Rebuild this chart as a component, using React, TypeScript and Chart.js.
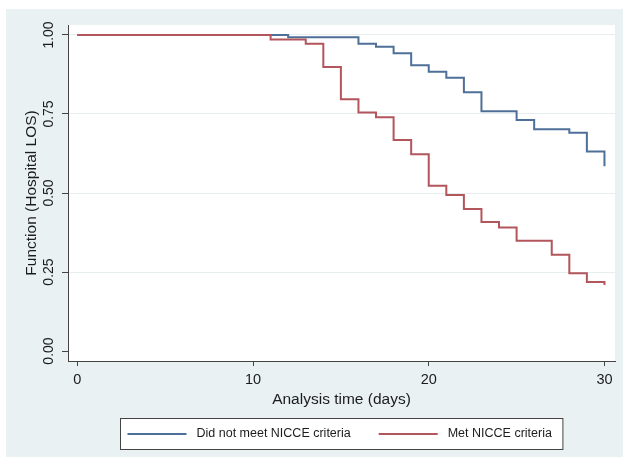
import React, { useEffect, useRef } from "react";
import { Chart, registerables } from "chart.js";

Chart.register(...registerables);

// ---- data ----
const blueDays = [0, 12, 16, 17, 18, 19, 20, 21, 22, 23, 25, 26, 28, 29, 30];
const blueSurv = [1, 0.993, 0.972, 0.963, 0.942, 0.904, 0.884, 0.865, 0.819, 0.759, 0.731, 0.702, 0.691, 0.631, 0.585];
const redDays = [0, 11, 13, 14, 15, 16, 17, 18, 19, 20, 21, 22, 23, 24, 25, 27, 28, 29, 30];
const redSurv = [1, 0.986, 0.972, 0.899, 0.797, 0.755, 0.74, 0.668, 0.623, 0.523, 0.494, 0.449, 0.408, 0.391, 0.349, 0.305, 0.246, 0.218, 0.209];
const seriesLabels = ["Did not meet NICCE criteria", "Met NICCE criteria"];
const xTicks = [0, 10, 20, 30];
const yTicks = [0, 0.25, 0.5, 0.75, 1];
const xTitle = "Analysis time (days)";
const yTitle = "Function (Hospital LOS)";

const FONT = "'Liberation Sans', Arial, Helvetica, sans-serif";
const BLUE = "rgb(78,112,152)";
const RED = "rgb(178,86,92)";
const AXIS = "#444";
const TEXT = "#1c1c1c";
const PANEL = "#e9f1f3";
const GRID = "#e6eef0";

const bgPlugin = {
  id: "statabg",
  beforeDraw(chart: any) {
    const { ctx, chartArea: ca, width, height } = chart;
    ctx.save();
    ctx.fillStyle = "#ffffff";
    ctx.fillRect(0, 0, width, height);
    ctx.fillStyle = PANEL;
    ctx.fillRect(6, 9, width - 6, height - 9);
    ctx.fillStyle = "#ffffff";
    ctx.fillRect(ca.left, ca.top, ca.right - ca.left, ca.bottom - ca.top);
    ctx.restore();
  },
};

const boxLegendPlugin = {
  id: "boxlegend",
  afterDraw(chart: any) {
    const { ctx, chartArea: ca, height } = chart;
    const ds = chart.data.datasets;
    const order = [0, 1];
    ctx.save();
    ctx.font = `12.5px ${FONT}`;
    const lineLen = 59, gapText = 10, gapItem = 28, padL = 7, padR = 11;
    const widths = order.map((i) => ctx.measureText(ds[i].label).width);
    let total = padL + padR + gapItem * (order.length - 1);
    widths.forEach((w) => (total += lineLen + gapText + w));
    const cx = (ca.left + ca.right) / 2;
    const left = Math.round(cx - total / 2) + 0.5;
    const top = height - 39 + 0.5;
    const h = 31;
    ctx.fillStyle = "#ffffff";
    ctx.fillRect(left, top, total, h);
    ctx.strokeStyle = AXIS;
    ctx.lineWidth = 1;
    ctx.strokeRect(left, top, total, h);
    const yc = top + h / 2;
    let x = left + padL;
    order.forEach((i, k) => {
      ctx.strokeStyle = ds[i].borderColor;
      ctx.lineWidth = 2;
      ctx.beginPath();
      ctx.moveTo(x, yc);
      ctx.lineTo(x + lineLen, yc);
      ctx.stroke();
      x += lineLen + gapText;
      ctx.fillStyle = TEXT;
      ctx.textAlign = "left";
      ctx.textBaseline = "middle";
      ctx.fillText(ds[i].label, x, yc);
      x += widths[k] + gapItem;
    });
    ctx.restore();
  },
};

export default function App() {
  const ref = useRef<HTMLCanvasElement | null>(null);

  useEffect(() => {
    document.body.style.margin = "0";
    const canvas = ref.current;
    if (!canvas) return;

    const blueData = blueDays.map((d, i) => ({ x: d, y: blueSurv[i] }));
    const redData = redDays.map((d, i) => ({ x: d, y: redSurv[i] }));

    const chart = new Chart(canvas, {
      type: "line",
      data: {
        datasets: [
          {
            label: seriesLabels[0],
            data: blueData,
            borderColor: BLUE,
            backgroundColor: BLUE,
            borderWidth: 2,
            stepped: "before",
            pointRadius: 0,
            fill: false,
            order: 1,
          },
          {
            label: seriesLabels[1],
            data: redData,
            borderColor: RED,
            backgroundColor: RED,
            borderWidth: 2,
            stepped: "before",
            pointRadius: 0,
            fill: false,
            order: 0,
          },
        ],
      },
      options: {
        animation: false,
        responsive: false,
        devicePixelRatio: 1,
        layout: { padding: { top: 25, right: 8, bottom: 44, left: 0 } },
        plugins: {
          legend: { display: false },
          tooltip: { enabled: false },
        },
        scales: {
          x: {
            type: "linear",
            position: "bottom",
            min: -0.53,
            max: 30.6,
            afterBuildTicks: (s: any) => {
              s.ticks = xTicks.map((v) => ({ value: v }));
            },
            afterFit: (s: any) => {
              s.height = 52;
            },
            ticks: {
              autoSkip: false,
              maxRotation: 0,
              padding: 5,
              color: TEXT,
              font: { family: FONT, size: 14.5 },
              callback: (v: any) => String(v),
            },
            grid: {
              drawOnChartArea: false,
              drawTicks: true,
              tickLength: 5,
              tickColor: AXIS,
              tickWidth: 1,
            },
            border: { display: true, color: AXIS, width: 1 },
            title: {
              display: true,
              text: xTitle,
              color: TEXT,
              font: { family: FONT, size: 15.5 },
              padding: { top: 0, bottom: 3.5 },
            },
          },
          y: {
            type: "linear",
            min: -0.0316,
            max: 1.0316,
            afterBuildTicks: (s: any) => {
              s.ticks = yTicks.map((v) => ({ value: v }));
            },
            afterFit: (s: any) => {
              s.width = 68;
            },
            ticks: {
              autoSkip: false,
              minRotation: 90,
              maxRotation: 90,
              crossAlign: "center",
              padding: -1,
              color: TEXT,
              font: { family: FONT, size: 14 },
              callback: (v: any) => Number(v).toFixed(2),
            },
            grid: {
              drawOnChartArea: true,
              drawTicks: true,
              tickLength: 6,
              tickColor: AXIS,
              tickWidth: 1,
              lineWidth: 1,
              color: (c: any) => (c.tick && c.tick.value === 0 ? "rgba(0,0,0,0)" : GRID),
            },
            border: { display: true, color: AXIS, width: 1 },
            title: {
              display: true,
              text: yTitle,
              color: TEXT,
              font: { family: FONT, size: 15.5 },
              padding: { top: 22, bottom: 0 },
            },
          },
        },
      } as any,
      plugins: [bgPlugin, boxLegendPlugin],
    });

    return () => chart.destroy();
  }, []);

  return (
    <canvas
      ref={ref}
      width={623}
      height={457}
      style={{ display: "block", width: 623, height: 457 }}
    />
  );
}
